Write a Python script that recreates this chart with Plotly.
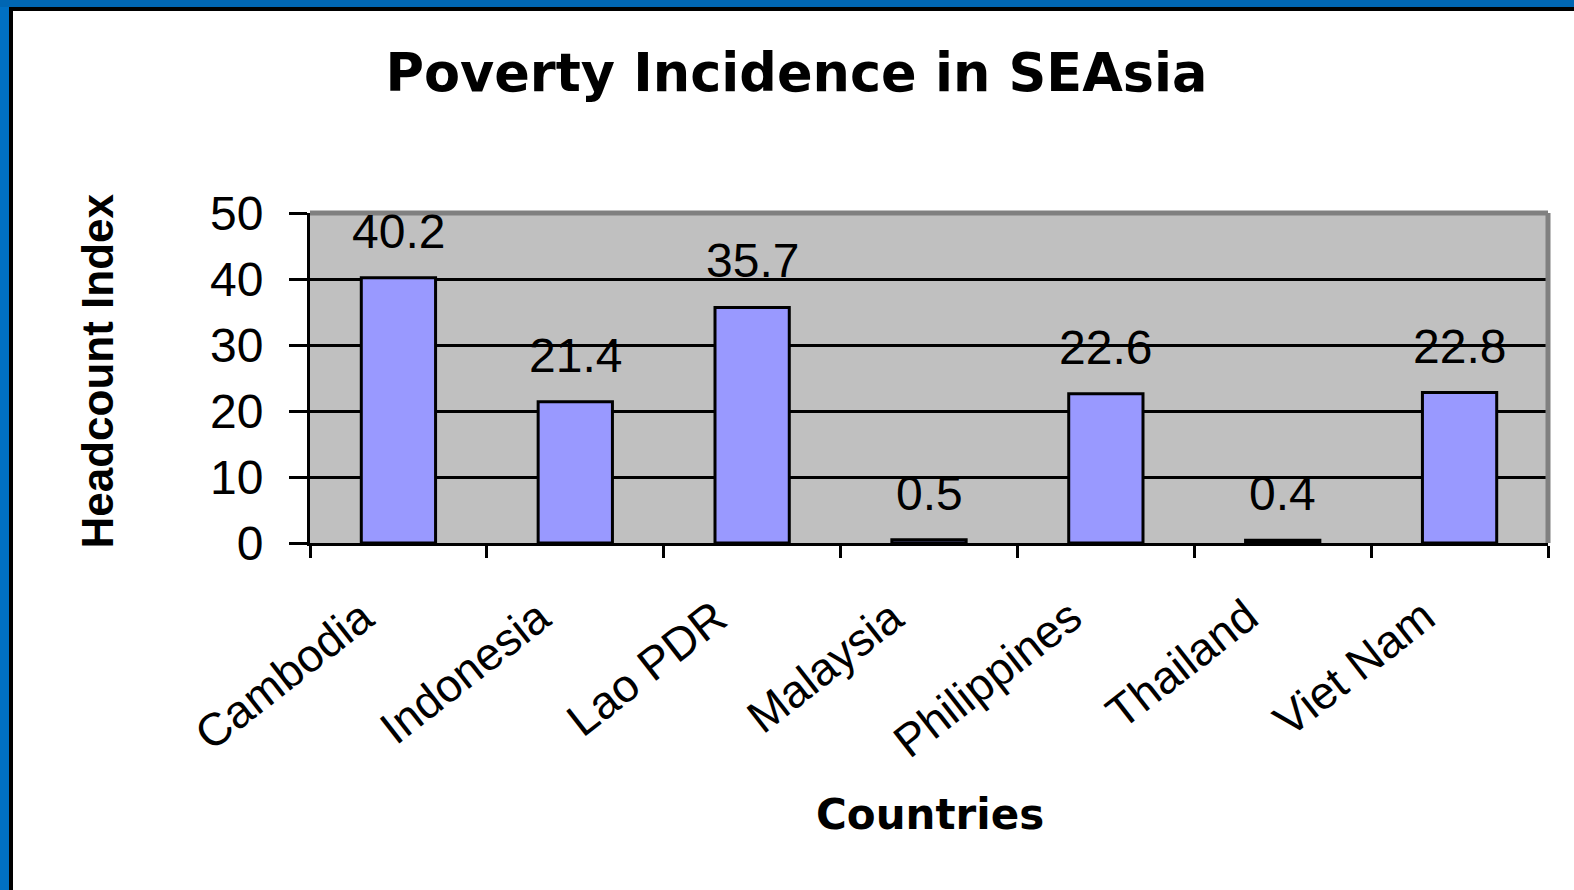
import plotly.graph_objects as go

countries = ["Cambodia", "Indonesia", "Lao PDR", "Malaysia", "Philippines", "Thailand", "Viet Nam"]
headcount = [40.2, 21.4, 35.7, 0.5, 22.6, 0.4, 22.8]
value_labels = ["40.2", "21.4", "35.7", "0.5", "22.6", "0.4", "22.8"]
y_ticks = [0, 10, 20, 30, 40, 50]

W, H = 1574, 890
L, R, T, B = 310, 26, 213, 347
PW = W - L - R
PH = H - T - B

FONT = "Liberation Sans, Arial"

fig = go.Figure()
fig.add_trace(go.Bar(
    x=countries, y=headcount,
    marker=dict(color="#9999FF", line=dict(color="black", width=3)),
    width=0.42,
    hoverinfo="x+y",
))

# value labels above bars
for c, v, t in zip(countries, headcount, value_labels):
    fig.add_annotation(x=c, y=v, text=t, showarrow=False, yanchor="bottom",
                       yshift=18, font=dict(family=FONT, size=48, color="black"))

# rotated category labels
for c in countries:
    fig.add_annotation(x=c, y=0, yref="y", text=c, showarrow=False, textangle=-38,
                       xanchor="right", yanchor="top", xshift=-13, yshift=-44,
                       font=dict(family=FONT, size=46, color="black"))

# axis titles
fig.add_annotation(xref="paper", yref="paper", x=(930 - L) / PW, y=-(814 - (T + PH)) / PH,
                   text="Countries", showarrow=False, xanchor="center", yanchor="middle",
                   font=dict(family="DejaVu Sans", size=42, color="black", weight="bold"))
fig.add_annotation(xref="paper", yref="paper", x=-(L - 97) / PW, y=((T + PH) - 371.5) / PH,
                   text="Headcount Index", showarrow=False, textangle=-90,
                   xanchor="center", yanchor="middle",
                   font=dict(family=FONT, size=44, color="black", weight="bold"))

def px_shape(x0, x1, y0, y1, color):
    # pixel coordinates (from top-left of figure)
    return dict(type="rect", xref="paper", yref="paper",
                xsizemode="pixel", ysizemode="pixel", xanchor=0, yanchor=1,
                x0=x0 - L, x1=x1 - L, y0=T - y0, y1=T - y1,
                line=dict(width=0), fillcolor=color, layer="above")

shapes = [
    px_shape(0, 9, 0, H, "#0070C4"),
    px_shape(0, W, 0, 7, "#0066B3"),
    px_shape(9, 13, 7, H, "black"),
    px_shape(9, W, 7, 11, "black"),
    dict(type="line", xref="paper", yref="paper", x0=0, x1=1, y0=1, y1=1,
         line=dict(color="#808080", width=5), layer="above"),
    dict(type="line", xref="paper", yref="paper", x0=1, x1=1, y0=0, y1=1,
         line=dict(color="#808080", width=5), layer="above"),
]

fig.update_layout(
    width=W, height=H,
    margin=dict(l=L, r=R, t=T, b=B, autoexpand=False),
    paper_bgcolor="white",
    plot_bgcolor="#C0C0C0",
    showlegend=False,
    bargap=0.58,
    shapes=shapes,
    title=dict(text="Poverty Incidence in SEAsia", x=796.5 / W, xanchor="center",
               y=1 - 73 / H, yanchor="middle",
               font=dict(family="DejaVu Sans", size=52.5, color="black", weight="bold")),
    xaxis=dict(
        type="category",
        range=[-0.5, len(countries) - 0.5],
        automargin=False,
        showgrid=False,
        showline=True, linecolor="black", linewidth=3,
        ticks="outside", tickson="boundaries", ticklen=12, tickwidth=3, tickcolor="black",
        showticklabels=False,
    ),
    yaxis=dict(
        automargin=False,
        range=[0, 50], tickvals=y_ticks, ticktext=[str(v) for v in y_ticks],
        showgrid=True, gridcolor="black", gridwidth=3,
        zeroline=False,
        showline=True, linecolor="black", linewidth=3,
        ticks="outside", ticklen=18, tickwidth=3, tickcolor="black",
        tickfont=dict(family=FONT, size=48, color="black"),
        ticklabelstandoff=16,
    ),
)

fig.write_html("out.html", config={"displayModeBar": False},
               post_script="document.body.style.margin='0';document.body.style.overflow='hidden';")
